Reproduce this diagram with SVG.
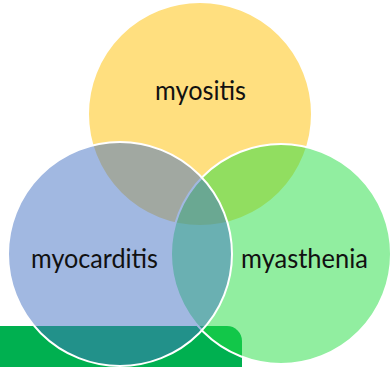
<svg xmlns="http://www.w3.org/2000/svg" width="390" height="367" viewBox="0 0 390 367">
<style>
.c{stroke:#ffffff;stroke-width:2;fill-opacity:0.5}
.t{font-family:Lato,"Liberation Sans",sans-serif;font-size:26px;fill:#111111;text-anchor:middle}
</style>
<rect width="390" height="367" fill="#ffffff"/>
<path id="bar" d="M0 326 H227 A15 15 0 0 1 242 341 V367 H0 Z" fill="#00B050"/>
<g id="connectors"></g>
<g id="node-myositis">
<circle class="c" cx="200" cy="114" r="112" fill="#FFC000"/>
<text class="t" x="200.5" y="100" textLength="91" lengthAdjust="spacingAndGlyphs">myositis</text>
</g>
<g id="node-myasthenia">
<circle class="c" cx="281" cy="254" r="110" fill="#24DD42"/>
<text class="t" x="304.5" y="268" textLength="127" lengthAdjust="spacingAndGlyphs">myasthenia</text>
</g>
<g id="node-myocarditis">
<circle class="c" cx="120" cy="254" r="112" fill="#4472C4"/>
<text class="t" x="94.5" y="268" textLength="127" lengthAdjust="spacingAndGlyphs">myocarditis</text>
</g>
</svg>
